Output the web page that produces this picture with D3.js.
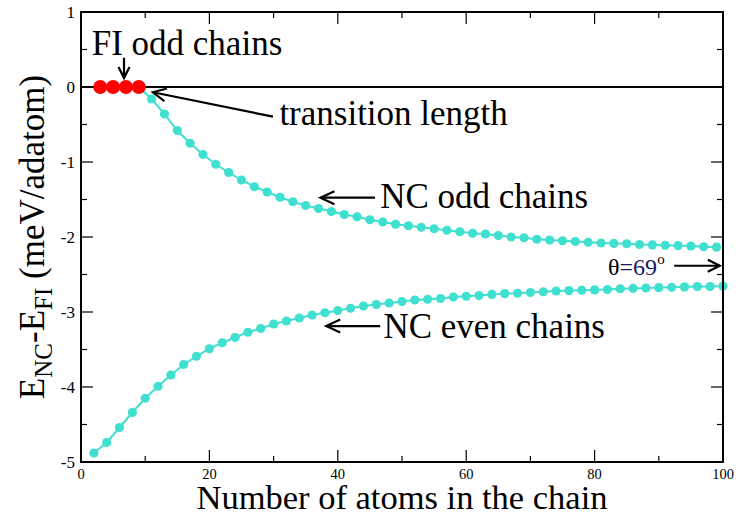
<!DOCTYPE html>
<html>
<head>
<meta charset="utf-8">
<script src="https://cdn.jsdelivr.net/npm/d3@7"></script>
<style>
  body { margin: 0; background: #fff; }
  svg { display: block; }
</style>
</head>
<body>
<svg id="chart" width="740" height="515"></svg>
<script>
// ---- data ----
const fiOddN = [3, 5, 7, 9];
const fiOddE = [0, 0, 0, 0];

const ncOddN = [11,13,15,17,19,21,23,25,27,29,31,33,35,37,39,41,43,45,47,49,51,53,55,57,59,61,63,65,67,69,71,73,75,77,79,81,83,85,87,89,91,93,95,97,99];
const ncOddE = [-0.16,-0.36,-0.58,-0.75,-0.90,-1.03,-1.14,-1.24,-1.33,-1.40,-1.47,-1.53,-1.58,-1.62,-1.66,-1.70,-1.73,-1.77,-1.80,-1.83,-1.85,-1.87,-1.89,-1.91,-1.93,-1.95,-1.96,-1.98,-2.00,-2.01,-2.03,-2.04,-2.05,-2.06,-2.07,-2.08,-2.085,-2.09,-2.10,-2.105,-2.11,-2.115,-2.12,-2.13,-2.135];

const ncEvenN = [2,4,6,8,10,12,14,16,18,20,22,24,26,28,30,32,34,36,38,40,42,44,46,48,50,52,54,56,58,60,62,64,66,68,70,72,74,76,78,80,82,84,86,88,90,92,94,96,98,100];
const ncEvenE = [-4.88,-4.74,-4.54,-4.34,-4.15,-3.99,-3.84,-3.70,-3.59,-3.49,-3.41,-3.34,-3.27,-3.22,-3.16,-3.12,-3.08,-3.04,-3.01,-2.98,-2.95,-2.92,-2.90,-2.88,-2.86,-2.84,-2.83,-2.82,-2.80,-2.79,-2.78,-2.765,-2.755,-2.75,-2.74,-2.73,-2.72,-2.715,-2.71,-2.705,-2.70,-2.69,-2.685,-2.68,-2.675,-2.67,-2.665,-2.66,-2.66,-2.655];

const xTicks = [0, 20, 40, 60, 80, 100];
const yTicks = [1, 0, -1, -2, -3, -4, -5];

// ---- layout ----
const FONT = '"Liberation Serif"';
const svg = d3.select("#chart");
const L = 81, R = 723, T = 12, B = 462;
const x = d3.scaleLinear().domain([0, 100]).range([L, R]);
const y = d3.scaleLinear().domain([-5, 1]).range([B, T]);

const cyan = "#40E0D0";
const red = "#FF0000";

// zero line
svg.append("line")
  .attr("x1", x(0)).attr("x2", x(100))
  .attr("y1", y(0)).attr("y2", y(0))
  .attr("stroke", "#000").attr("stroke-width", 2);

// ---- series ----
const line = d3.line().x(d => x(d[0])).y(d => y(d[1]));
const oddPts = [[fiOddN[3], fiOddE[3]]].concat(ncOddN.map((n, i) => [n, ncOddE[i]]));
const evenPts = ncEvenN.map((n, i) => [n, ncEvenE[i]]);

svg.append("path").attr("d", line(oddPts)).attr("fill", "none")
  .attr("stroke", cyan).attr("stroke-width", 2);
svg.append("path").attr("d", line(evenPts)).attr("fill", "none")
  .attr("stroke", cyan).attr("stroke-width", 2);

svg.append("g").selectAll("circle").data(ncOddN.map((n, i) => [n, ncOddE[i]]))
  .join("circle").attr("cx", d => x(d[0])).attr("cy", d => y(d[1]))
  .attr("r", 4.6).attr("fill", cyan);
svg.append("g").selectAll("circle").data(evenPts)
  .join("circle").attr("cx", d => x(d[0])).attr("cy", d => y(d[1]))
  .attr("r", 4.6).attr("fill", cyan);
svg.append("g").selectAll("circle").data(fiOddN.map((n, i) => [n, fiOddE[i]]))
  .join("circle").attr("cx", d => x(d[0])).attr("cy", d => y(d[1]))
  .attr("r", 7).attr("fill", red);

// ---- axes frame & ticks ----
const frame = svg.append("g");
frame.append("rect").attr("x", L).attr("y", T).attr("width", R - L).attr("height", B - T)
  .attr("fill", "none").attr("stroke", "#000").attr("stroke-width", 2);

const xMinor = d3.range(10, 100, 20);
const yMinor = d3.range(-4.5, 1, 1);
const tk = frame.append("g").attr("stroke", "#000").attr("stroke-width", 1.2);
xTicks.forEach(v => {
  tk.append("line").attr("x1", x(v)).attr("x2", x(v)).attr("y1", B).attr("y2", B - 12);
  tk.append("line").attr("x1", x(v)).attr("x2", x(v)).attr("y1", T).attr("y2", T + 12);
});
xMinor.forEach(v => {
  tk.append("line").attr("x1", x(v)).attr("x2", x(v)).attr("y1", B).attr("y2", B - 6);
  tk.append("line").attr("x1", x(v)).attr("x2", x(v)).attr("y1", T).attr("y2", T + 6);
});
yTicks.forEach(v => {
  tk.append("line").attr("y1", y(v)).attr("y2", y(v)).attr("x1", L).attr("x2", L + 12);
  tk.append("line").attr("y1", y(v)).attr("y2", y(v)).attr("x1", R).attr("x2", R - 12);
});
yMinor.forEach(v => {
  tk.append("line").attr("y1", y(v)).attr("y2", y(v)).attr("x1", L).attr("x2", L + 6);
  tk.append("line").attr("y1", y(v)).attr("y2", y(v)).attr("x1", R).attr("x2", R - 6);
});

// tick labels
svg.append("g").selectAll("text").data(xTicks).join("text")
  .style("font-family", FONT)
  .attr("x", d => x(d)).attr("y", 479).attr("text-anchor", "middle")
  .attr("font-size", 14.5).text(d => d);
svg.append("g").selectAll("text").data(yTicks).join("text")
  .style("font-family", FONT)
  .attr("x", 75).attr("y", d => y(d) + 6).attr("text-anchor", "end")
  .attr("font-size", 17).text(d => d);

// axis titles
svg.append("text").style("font-family", FONT)
  .attr("x", (L + R) / 2).attr("y", 509).attr("text-anchor", "middle")
  .attr("font-size", 34.5).text("Number of atoms in the chain");

const yt = svg.append("text").style("font-family", FONT)
  .attr("transform", `translate(44,${(T + B) / 2}) rotate(-90)`)
  .attr("text-anchor", "middle").attr("font-size", 35);
yt.append("tspan").text("E");
yt.append("tspan").attr("font-size", 25).attr("dy", 8).text("NC");
yt.append("tspan").attr("dy", -8).text("-E");
yt.append("tspan").attr("font-size", 25).attr("dy", 8).text("FI");
yt.append("tspan").attr("dy", -8).text(" (meV/adatom)");

// ---- annotations ----
function arrow(x1, y1, x2, y2, len, hw) {
  const X1 = x(x1), Y1 = y(y1), X2 = x(x2), Y2 = y(y2);
  const a = Math.atan2(Y2 - Y1, X2 - X1);
  const g = svg.append("g").attr("stroke", "#000").attr("stroke-width", 2.2)
    .attr("fill", "none").attr("stroke-linecap", "butt");
  g.append("line").attr("x1", X1).attr("y1", Y1).attr("x2", X2).attr("y2", Y2);
  const bx = X2 - len * Math.cos(a), by = Y2 - len * Math.sin(a);
  const px = -Math.sin(a) * hw, py = Math.cos(a) * hw;
  g.append("path").attr("d", `M${bx + px},${by + py}L${X2},${Y2}L${bx - px},${by - py}`);
}
function label(xv, yv, size, txt) {
  return svg.append("text").style("font-family", FONT)
    .attr("x", x(xv)).attr("y", y(yv)).attr("font-size", size).text(txt);
}

label(1.67, 0.427, 35, "FI odd chains");
arrow(6.7, 0.39, 6.7, 0.12, 11, 5.5);

label(30.9, -0.5, 35, "transition length");
arrow(29.9, -0.396, 11.2, -0.07, 13, 6.5);

label(46.6, -1.617, 35, "NC odd chains");
arrow(45.8, -1.476, 37.3, -1.476, 14, 6.5);

label(47.1, -3.35, 35, "NC even chains");
arrow(46.6, -3.187, 38.2, -3.187, 14, 6.5);

const th = label(82.1, -2.507, 24, null);
th.append("tspan").attr("fill", "#000").text("θ");
th.append("tspan").attr("fill", "#1a1a5e").text("=69");
th.append("tspan").attr("fill", "#000").attr("font-size", 15).attr("dy", -11).text("o");
arrow(92.4, -2.383, 99.5, -2.383, 12, 6);
</script>
</body>
</html>
